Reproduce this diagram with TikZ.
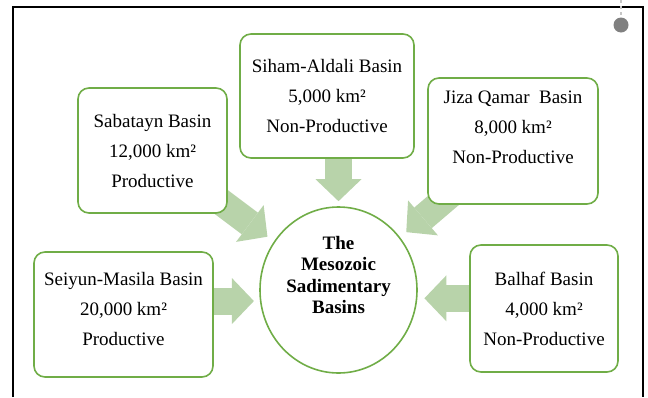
\documentclass[tikz,border=0pt]{standalone}
\usepackage{fontspec}
\setmainfont{Liberation Serif}
\usetikzlibrary{arrows.meta, shapes.geometric, backgrounds}
\definecolor{basingreen}{RGB}{112, 173, 71}
\definecolor{flowgreen}{RGB}{184, 211, 170}
\definecolor{markgray}{RGB}{128, 128, 128}

\begin{document}
\begin{tikzpicture}[
    x=1pt, y=-1pt,
    basin/.style={
      draw=basingreen, fill=white, rounded corners=11pt, line width=1.6pt,
      align=center, inner sep=0pt, minimum height=125pt,
      font=\fontsize{19}{30}\selectfont
    },
    hubnode/.style={
      ellipse, draw=basingreen, fill=white, line width=1.6pt, inner sep=0pt,
      minimum width=157pt, minimum height=166pt, align=center,
      font=\fontsize{19}{21.5}\selectfont\bfseries
    },
    flow/.style={
      draw=flowgreen, line width=27pt,
      -{Triangle[length=22pt, width=46pt, line width=0pt]}
    },
]
    \useasboundingbox (0,0) rectangle (648,397);

    % Frame and marker
    \draw[line width=2pt] (12.5,397) |- (643,6.5) -- (643,397);
    \draw[markgray!45, line width=2.5pt, dash pattern=on 3pt off 3pt] (621,0) -- (621,15);
    \fill[markgray] (621,25) circle (7.5pt);

    % Centre
    \node[hubnode, text depth=30pt] (hub) at (338.5,290)
      {The\\Mesozoic\\Sadimentary\\Basins};

    % Basins
    \node[basin, minimum width=174pt, minimum height=124pt] (siham) at (327,96)
      {Siham-Aldali Basin\\5,000 km²\\Non-Productive};
    \node[basin, minimum width=149pt] (sabatayn) at (152.5,150.5)
      {Sabatayn Basin\\12,000 km²\\Productive};
    \node[basin, minimum width=170pt, minimum height=126pt, text depth=28pt] (jiza) at (513,141)
      {Jiza Qamar~ Basin\\8,000 km²\\Non-Productive};
    \node[basin, minimum width=179pt, text depth=12pt] (seiyun) at (123.5,314.5)
      {Seiyun-Masila Basin\\20,000 km²\\Productive};
    \node[basin, minimum width=148pt, minimum height=127pt] (balhaf) at (544,308.5)
      {Balhaf Basin\\4,000 km²\\Non-Productive};

    % Arrows
    \begin{scope}[on background layer]
      \draw[flow, shorten >=5pt] (siham.south -| hub.north) -- (hub.north);
      \draw[flow, shorten <=-20pt, shorten >=8pt] (sabatayn) -- (hub);
      \draw[flow, shorten <=-20pt, shorten >=8pt] (jiza) -- (hub);
      \draw[flow, shorten >=6pt] (seiyun.east |- hub.188) -- (hub.188);
      \draw[flow, shorten >=7pt] (balhaf.west |- hub.-6) -- (hub.-6);
    \end{scope}
\end{tikzpicture}
\end{document}
